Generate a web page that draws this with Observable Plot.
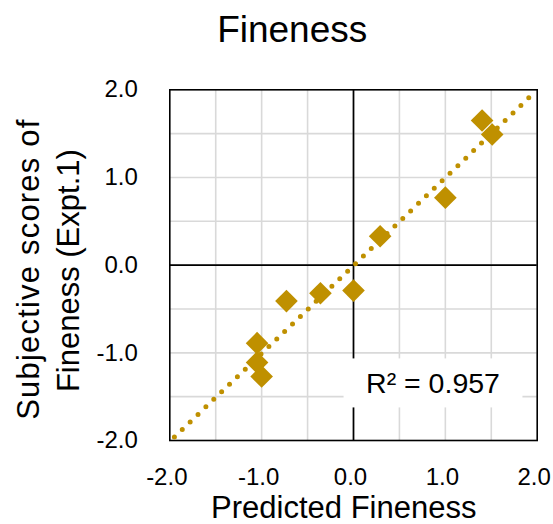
<!DOCTYPE html>
<html>
<head>
<meta charset="utf-8">
<script src="https://cdn.jsdelivr.net/npm/d3@7"></script>
<script src="https://cdn.jsdelivr.net/npm/@observablehq/plot@0.6"></script>
<style>
  html, body { margin: 0; padding: 0; background: #fff; }
  svg { display: block; }
</style>
</head>
<body>
<div id="chart"></div>
<script>
// ---- data ----
const titleText = "Fineness";
const xLabel = "Predicted Fineness";
const yLabelLines = ["Subjective scores of", "Fineness (Expt.1)"];
const r2Text = "R\u00B2 = 0.957";

const predicted = [1.40, 1.51, 1.00, 0.29, 0.00, -0.36, -0.73, -1.05, -1.05, -1.00];
const subjective = [1.65, 1.49, 0.77, 0.33, -0.29, -0.32, -0.41, -0.89, -1.11, -1.27];

const trendX = [-1.95, 1.92];
const trendY = [-1.96, 1.92];

const tickValues = [-2, -1, 0, 1, 2];
const gridValues = [-1.5, -1, -0.5, 0, 0.5, 1, 1.5];

const points = predicted.map((x, i) => ({x, y: subjective[i]}));
const trend = trendX.map((x, i) => ({x, y: trendY[i]}));

const gold = "#BF9000";
const fmt = d => d.toFixed(1);

const plot = Plot.plot({
  width: 553,
  height: 524,
  marginLeft: 169.3,
  marginRight: 16.3,
  marginTop: 89.3,
  marginBottom: 84,
  style: {fontFamily: "'Liberation Sans', Arial, sans-serif", background: "#fff", color: "#000"},
  x: {domain: [-2, 2]},
  y: {domain: [-2, 2]},
  marks: [
    Plot.gridX(gridValues, {stroke: "#d9d9d9", strokeOpacity: 1, strokeWidth: 1.6}),
    Plot.gridY(gridValues, {stroke: "#d9d9d9", strokeOpacity: 1, strokeWidth: 1.6}),
    Plot.ruleX([0], {stroke: "#000", strokeWidth: 1.7}),
    Plot.ruleY([0], {stroke: "#000", strokeWidth: 1.7}),
    Plot.frame({stroke: "#000", strokeWidth: 1.6}),
    Plot.axisX(tickValues, {tickSize: 0, tickPadding: 27, fontSize: 24, tickFormat: fmt, dx: -3, label: null}),
    Plot.axisY(tickValues, {tickSize: 0, tickPadding: 32, fontSize: 24, tickFormat: fmt, label: null}),
    Plot.text([titleText], {text: d => d, frameAnchor: "top", textAnchor: "middle", lineAnchor: "bottom", dx: -61.3, dy: -47.6, fontSize: 37, fill: "#000"}),
    Plot.text([xLabel], {text: d => d, frameAnchor: "bottom", textAnchor: "middle", lineAnchor: "bottom", dx: -9.7, dy: 77, fontSize: 31, fill: "#000"}),
    Plot.text([yLabelLines[0]], {text: d => d, frameAnchor: "left", textAnchor: "middle", lineAnchor: "bottom", rotate: -90, dx: -131.3, dy: 4, fontSize: 31, fill: "#000"}),
    Plot.text([yLabelLines[1]], {text: d => d, frameAnchor: "left", textAnchor: "middle", lineAnchor: "bottom", rotate: -90, dx: -91.3, dy: 5.5, fontSize: 31, fill: "#000"}),
    Plot.text([r2Text], {text: d => d, frameAnchor: "bottom-right", textAnchor: "middle", lineAnchor: "middle", dx: -104.2, dy: -56.7, fontSize: 28.5, fill: "#000"}),
    Plot.line(trend, {x: "x", y: "y", stroke: gold, strokeWidth: 5, strokeDasharray: "0 10.9", strokeLinecap: "round"}),
    Plot.dot(points, {x: "x", y: "y", symbol: "diamond2", r: 10.2, fill: gold, stroke: "none"})
  ]
});

document.getElementById("chart").appendChild(plot);

const svgNS = "http://www.w3.org/2000/svg";
for (const t of plot.querySelectorAll("text")) {
  if (t.textContent === yLabelLines[0]) {
    t.style.letterSpacing = "1.2px";
  }
  if (t.textContent === r2Text) {
    // white background box behind the R² label
    const bb = t.getBBox();
    const tr = t.transform.baseVal.consolidate();
    const ox = tr ? tr.matrix.e : 0, oy = tr ? tr.matrix.f : 0;
    const padX = 22.5, padY = 8.5;
    const rect = document.createElementNS(svgNS, "rect");
    rect.setAttribute("x", ox + bb.x - padX);
    rect.setAttribute("y", oy + bb.y - padY);
    rect.setAttribute("width", bb.width + 2 * padX);
    rect.setAttribute("height", bb.height + 2 * padY);
    rect.setAttribute("fill", "#fff");
    t.parentNode.insertBefore(rect, t);
  }
}
</script>
</body>
</html>
